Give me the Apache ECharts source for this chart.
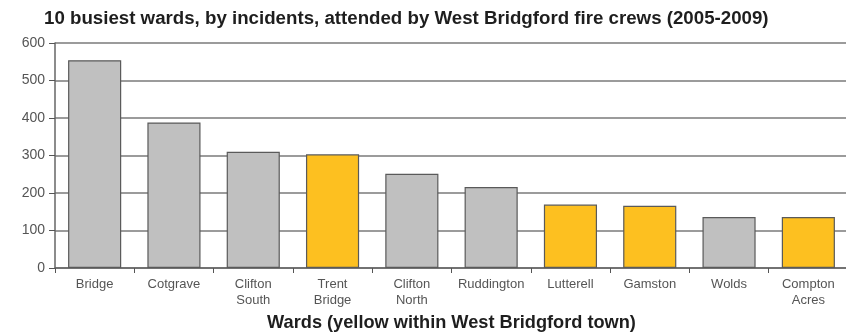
<!DOCTYPE html>
<html>
<head>
<meta charset="utf-8">
<script src="https://cdn.jsdelivr.net/npm/echarts@6/dist/echarts.min.js"></script>
<style>
  html, body { margin: 0; padding: 0; background: #fff; }
  #chart { width: 846px; height: 334px; }
</style>
</head>
<body>
<div id="chart"></div>
<script>
// Ward names (line breaks mark two-line axis labels)
const wards = ['Bridge', 'Cotgrave', 'Clifton\nSouth', 'Trent\nBridge', 'Clifton\nNorth',
  'Ruddington', 'Lutterell', 'Gamston', 'Wolds', 'Compton\nAcres'];
// Incidents attended, 2005-2009
const incidents = [554, 388, 310, 303, 251, 216, 169, 166, 136, 136];
// Whether each ward lies within West Bridgford town
const inTown = [false, false, false, true, false, false, true, true, false, true];
// Value axis ticks
const yTicks = [0, 100, 200, 300, 400, 500, 600];

const GREY = '#c0c0c0';
const YELLOW = '#fdc020';
const FONT = 'Liberation Sans, Arial, sans-serif';

const chart = echarts.init(document.getElementById('chart'), null, { renderer: 'canvas' });
chart.setOption({
  animation: false,
  backgroundColor: '#fff',
  title: {
    text: '10 busiest wards, by incidents, attended by West Bridgford fire crews (2005-2009)',
    left: 39, top: 4,
    textStyle: { fontFamily: FONT, fontWeight: 'bold', fontSize: 18.7, color: '#1e1e1e' }
  },
  grid: { left: 55, right: -2, top: 43, bottom: 66, containLabel: false, outerBoundsMode: 'none' },
  xAxis: {
    type: 'category',
    data: wards,
    name: 'Wards (yellow within West Bridgford town)',
    nameLocation: 'middle',
    nameGap: 46,
    nameTextStyle: { fontFamily: FONT, fontWeight: 'bold', fontSize: 18.2, color: '#1e1e1e' },
    axisLine: { show: true, lineStyle: { color: '#666', width: 1.5 } },
    axisTick: { show: true, length: 5, alignWithLabel: false, lineStyle: { color: '#555', width: 1 } },
    axisLabel: {
      fontFamily: FONT, fontSize: 13, color: '#555',
      lineHeight: 16, margin: 8, interval: 0
    }
  },
  yAxis: {
    type: 'value',
    min: yTicks[0],
    max: yTicks[yTicks.length - 1],
    interval: 100,
    axisLine: { show: true, lineStyle: { color: '#666', width: 1.5 } },
    axisTick: { show: true, length: 6, lineStyle: { color: '#555', width: 1 } },
    axisLabel: { fontFamily: FONT, fontSize: 14, color: '#555', margin: 10 },
    splitLine: { show: true, lineStyle: { color: '#7a7a7a', width: 1.5 } }
  },
  series: [{
    type: 'bar',
    data: incidents.map((v, i) => ({
      value: v,
      itemStyle: { color: inTown[i] ? YELLOW : GREY }
    })),
    barCategoryGap: '33%',
    itemStyle: { borderColor: '#5a5a5a', borderWidth: 1.2 }
  }]
});
</script>
</body>
</html>
